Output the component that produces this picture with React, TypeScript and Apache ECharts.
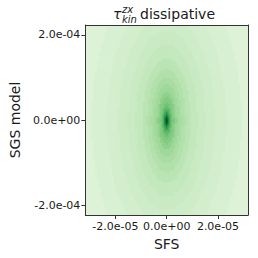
import React, { useEffect, useRef } from "react";
import * as echarts from "echarts";

// Axis ranges (data units)
const sfsRange = [-3.17e-5, 3.17e-5];
const sgsRange = [-2.235e-4, 2.235e-4];
const sfsTicks = [-2e-5, 0, 2e-5];
const sgsTicks = [-2e-4, 0, 2e-4];

// Histogram bins
const nSfsBins = 85;
const nSgsBins = 97;

// Colour level contours of the joint PDF:
// level, half-width along SFS, half-height along SGS model
const contourLevels = [1.0, 0.95, 0.9, 0.85, 0.8, 0.75, 0.7, 0.65, 0.6, 0.55, 0.5, 0.46, 0.42, 0.38, 0.35, 0.32, 0.29, 0.26, 0.24, 0.22, 0.2, 0.18, 0.16, 0.145];
const contourHalfSFS = [0.19e-6, 0.38e-6, 0.45e-6, 0.56e-6, 0.68e-6, 0.82e-6, 0.98e-6, 1.16e-6, 1.4e-6, 1.75e-6, 2.25e-6, 3.0e-6, 3.75e-6, 4.88e-6, 6.0e-6, 7.5e-6, 9.38e-6, 12.0e-6, 15.0e-6, 18.8e-6, 23.3e-6, 29.3e-6, 36.8e-6, 45.0e-6];
const contourHalfSGS = [0.24e-5, 0.5e-5, 0.7e-5, 0.95e-5, 1.2e-5, 1.5e-5, 1.85e-5, 2.25e-5, 2.75e-5, 3.35e-5, 4.2e-5, 5.64e-5, 6.82e-5, 8.46e-5, 1.01e-4, 1.22e-4, 1.46e-4, 1.79e-4, 2.12e-4, 2.49e-4, 2.94e-4, 3.53e-4, 4.23e-4, 5.05e-4];
const backgroundLevel = 0.13;

const greens = ["#f7fcf5", "#e5f5e0", "#c7e9c0", "#a1d99b", "#74c476", "#41ab5d", "#238b45", "#006d2c", "#00441b"];

function fmt(v: number): string {
  const s = Number(v).toExponential(1);
  const [m, e] = s.split("e");
  const sign = e[0] === "-" ? "-" : "+";
  const d = e.replace(/^[+-]/, "").padStart(2, "0");
  return `${m}e${sign}${d}`;
}

function buildCells() {
  const dx = (sfsRange[1] - sfsRange[0]) / nSfsBins;
  const dy = (sgsRange[1] - sgsRange[0]) / nSgsBins;
  const cells: number[][] = [];
  for (let i = 0; i < nSfsBins; i++) {
    const cx = sfsRange[0] + (i + 0.5) * dx;
    for (let j = 0; j < nSgsBins; j++) {
      const cy = sgsRange[0] + (j + 0.5) * dy;
      let lvl = backgroundLevel;
      for (let k = 0; k < contourLevels.length; k++) {
        const r = (cx / contourHalfSFS[k]) ** 2 + (cy / contourHalfSGS[k]) ** 2;
        if (r <= 1) {
          lvl = contourLevels[k];
          break;
        }
      }
      cells.push([cx, cy, lvl]);
    }
  }
  return { cells, dx, dy };
}

const FONT = "DejaVu Sans";
const AX = "#333";

export default function App() {
  const ref = useRef<HTMLDivElement>(null);
  useEffect(() => {
    if (!ref.current) return;
    const chart = echarts.init(ref.current, null, { renderer: "svg" });
    const { cells, dx, dy } = buildCells();
    const axisLine = { show: true, onZero: false, lineStyle: { color: AX, width: 1 } };
    chart.setOption({
      animation: false,
      backgroundColor: "#fff",
      grid: { left: 79, top: 25, right: 10, bottom: 43, containLabel: false },
      visualMap: {
        show: false,
        type: "continuous",
        min: 0,
        max: 1,
        dimension: 2,
        seriesIndex: 0,
        inRange: { color: greens },
      },
      xAxis: [
        {
          type: "value",
          min: sfsRange[0],
          max: sfsRange[1],
          position: "bottom",
          z: 10,
          axisLine,
          axisTick: { show: true, customValues: sfsTicks, length: 4, lineStyle: { color: AX } },
          axisLabel: { customValues: sfsTicks, formatter: fmt, margin: 6, fontSize: 11, fontFamily: FONT, color: "#1a1a1a" },
          splitLine: { show: false },
          name: "SFS",
          nameLocation: "middle",
          nameGap: 19,
          nameTextStyle: { fontSize: 14, fontFamily: FONT, color: "#1a1a1a" },
        },
        {
          type: "value",
          min: sfsRange[0],
          max: sfsRange[1],
          position: "top",
          z: 10,
          axisLine,
          axisTick: { show: false },
          axisLabel: { show: false },
          splitLine: { show: false },
        },
      ],
      yAxis: [
        {
          type: "value",
          min: sgsRange[0],
          max: sgsRange[1],
          position: "left",
          z: 10,
          axisLine,
          axisTick: { show: true, customValues: sgsTicks, length: 4, lineStyle: { color: AX } },
          axisLabel: { customValues: sgsTicks, formatter: fmt, margin: 5, fontSize: 11, fontFamily: FONT, color: "#1a1a1a" },
          splitLine: { show: false },
          name: "SGS model",
          nameLocation: "middle",
          nameGap: 57,
          nameTextStyle: { fontSize: 14, fontFamily: FONT, color: "#1a1a1a" },
        },
        {
          type: "value",
          min: sgsRange[0],
          max: sgsRange[1],
          position: "right",
          z: 10,
          axisLine,
          axisTick: { show: false },
          axisLabel: { show: false },
          splitLine: { show: false },
        },
      ],
      series: [
        {
          type: "custom",
          xAxisIndex: 0,
          yAxisIndex: 0,
          clip: true,
          encode: { x: 0, y: 1 },
          data: cells,
          renderItem: (params: any, api: any) => {
            const x = api.value(0);
            const y = api.value(1);
            const p0 = api.coord([x - dx / 2, y + dy / 2]);
            const p1 = api.coord([x + dx / 2, y - dy / 2]);
            return {
              type: "rect",
              shape: { x: p0[0], y: p0[1], width: p1[0] - p0[0] + 0.6, height: p1[1] - p0[1] + 0.6 },
              style: { fill: api.visual("color") },
            };
          },
        },
      ],
      graphic: [
        { type: "text", left: 113, top: 7, style: { text: "τ", font: `italic 14px '${FONT}'`, fill: "#1a1a1a" } },
        { type: "text", left: 122, top: 4, style: { text: "zx", font: `italic 10px '${FONT}'`, fill: "#1a1a1a" } },
        { type: "text", left: 122, top: 14, style: { text: "kin", font: `italic 10px '${FONT}'`, fill: "#1a1a1a" } },
        { type: "text", left: 140, top: 7, style: { text: "dissipative", font: `14px '${FONT}'`, fill: "#1a1a1a" } },
      ],
    });
    return () => chart.dispose();
  }, []);
  return (
    <div
      ref={ref}
      style={{ position: "fixed", left: 0, top: 0, width: 258, height: 258, background: "#fff" }}
    />
  );
}
